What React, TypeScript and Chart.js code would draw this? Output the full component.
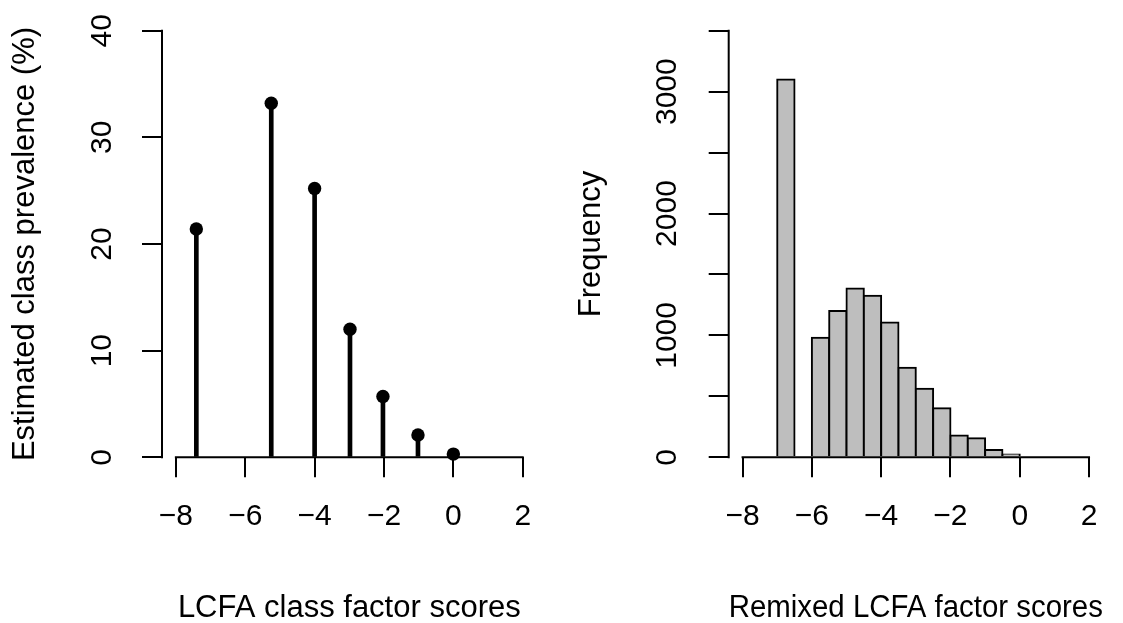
import React, { useEffect, useRef } from 'react';
import { Chart, registerables } from 'chart.js';

Chart.register(...registerables);

const FONT = "'Liberation Sans', Arial, Helvetica, sans-serif";
const FS = 30;
const TFS = 31;

// ---- Left panel data (LCFA classes) ----
const classScores = [-7.41, -5.25, -4.0, -2.98, -2.03, -1.02, 0.0];
const classPrevalence = [21.4, 33.2, 25.2, 12.0, 5.7, 2.1, 0.3];
const xTicks = [-8, -6, -4, -2, 0, 2];
const prevTicks = [0, 10, 20, 30, 40];

// ---- Right panel data (histogram) ----
const binEdges = [-7, -6.5, -6, -5.5, -5, -4.5, -4, -3.5, -3, -2.5, -2, -1.5, -1, -0.5, 0];
const binCounts = [3100, 0, 980, 1200, 1385, 1325, 1105, 735, 563, 402, 178, 156, 60, 22];
const freqTicks = [0, 500, 1000, 1500, 2000, 2500, 3000, 3500];
const freqLabels = [0, 1000, 2000, 3000];

const fmt = (v: number) => (v < 0 ? '\u2212' + Math.abs(v) : String(v));

function axisPlugin(xt: number[], yt: number[]) {
  return {
    id: 'rAxes',
    afterDraw(chart: any) {
      const { ctx, chartArea } = chart;
      const xs = chart.scales.x;
      const ys = chart.scales.y;
      ctx.save();
      ctx.strokeStyle = '#000';
      ctx.lineWidth = 2;
      ctx.beginPath();
      ctx.moveTo(xs.getPixelForValue(xt[0]) - 1, chartArea.bottom);
      ctx.lineTo(xs.getPixelForValue(xt[xt.length - 1]) + 1, chartArea.bottom);
      ctx.moveTo(chartArea.left, ys.getPixelForValue(yt[0]) + 1);
      ctx.lineTo(chartArea.left, ys.getPixelForValue(yt[yt.length - 1]) - 1);
      ctx.stroke();
      ctx.restore();
    },
  };
}

const gridOpts = {
  display: true,
  drawOnChartArea: false,
  drawTicks: true,
  offset: false,
  tickLength: 20,
  color: '#000',
  lineWidth: 2,
};

function makeX(title: string, height: number) {
  return {
    type: 'linear',
    min: -8.4,
    max: 2.4,
    offset: false,
    afterBuildTicks: (s: any) => {
      s.ticks = xTicks.map((v) => ({ value: v }));
    },
    afterFit: (s: any) => {
      s.height = height;
      s.paddingLeft = 0;
      s.paddingRight = 0;
    },
    grid: gridOpts,
    border: { display: false },
    ticks: {
      color: '#000',
      font: { family: FONT, size: FS },
      padding: 21.3,
      minRotation: 0,
      maxRotation: 0,
      autoSkip: false,
      callback: (v: any) => fmt(Number(v)),
    },
    title: {
      display: true,
      text: title,
      color: '#000',
      font: { family: FONT, size: TFS, lineHeight: 0.8 },
      padding: { top: 0, bottom: 2 },
    },
  };
}

function makeY(
  title: string,
  max: number,
  ticks: number[],
  labels: number[],
  width: number,
  tickPad: number,
  titlePad: number
) {
  return {
    type: 'linear',
    min: 0,
    max,
    afterBuildTicks: (s: any) => {
      s.ticks = ticks.map((v) => ({ value: v }));
    },
    afterFit: (s: any) => {
      s.width = width;
      s.paddingTop = 0;
      s.paddingBottom = 0;
    },
    grid: gridOpts,
    border: { display: false },
    ticks: {
      color: '#000',
      font: { family: FONT, size: FS },
      padding: tickPad,
      minRotation: 90,
      maxRotation: 90,
      crossAlign: 'center',
      autoSkip: false,
      callback: (v: any) => (labels.includes(Number(v)) ? String(v) : ''),
    },
    title: {
      display: true,
      text: title,
      color: '#000',
      font: { family: FONT, size: TFS, lineHeight: 0.8 },
      padding: { top: titlePad, bottom: 0 },
    },
  };
}

const commonOpts = {
  responsive: false,
  animation: false,
  events: [],
  plugins: { legend: { display: false }, tooltip: { enabled: false } },
};

export default function App() {
  const leftRef = useRef<HTMLCanvasElement>(null);
  const rightRef = useRef<HTMLCanvasElement>(null);

  useEffect(() => {
    document.body.style.margin = '0';
    Chart.defaults.font.family = FONT;
    Chart.defaults.color = '#000';

    const pts = classScores.map((x, i) => ({ x, y: classPrevalence[i] }));
    const left = new Chart(leftRef.current as HTMLCanvasElement, {
      type: 'bar',
      data: {
        datasets: [
          {
            type: 'bar',
            data: pts,
            backgroundColor: '#000',
            borderWidth: 0,
            barThickness: 4,
            clip: false,
          } as any,
          {
            type: 'scatter',
            data: pts,
            backgroundColor: '#000',
            borderColor: '#000',
            pointRadius: 6.7,
            borderWidth: 0,
            clip: false,
          } as any,
        ],
      },
      options: {
        ...commonOpts,
        layout: { padding: { left: 0, right: 25.4, top: 30.7, bottom: 0 } },
        scales: {
          x: makeX('LCFA class factor scores', 165.7),
          y: makeY('Estimated class prevalence (%)', 40, prevTicks, prevTicks, 162, 22.2, 13.2),
        },
      } as any,
      plugins: [axisPlugin(xTicks, prevTicks)],
    });

    const centers = binCounts.map((_, i) => (binEdges[i] + binEdges[i + 1]) / 2);
    const right = new Chart(rightRef.current as HTMLCanvasElement, {
      type: 'bar',
      data: {
        datasets: [
          {
            type: 'bar',
            data: centers.map((x, i) => ({ x, y: binCounts[i] })),
            backgroundColor: '#BEBEBE',
            borderColor: '#000',
            borderWidth: 2,
            inflateAmount: 1,
            borderSkipped: 'start',
            barPercentage: 1,
            categoryPercentage: 1,
          } as any,
        ],
      },
      options: {
        ...commonOpts,
        layout: { padding: { left: 0, right: 20.1, top: 30.7, bottom: 0 } },
        scales: {
          x: makeX('Remixed LCFA factor scores', 165.7),
          y: makeY('Frequency', 3500, freqTicks, freqLabels, 167.7, 7.3, 18.5),
        },
      } as any,
      plugins: [axisPlugin(xTicks, freqTicks)],
    });

    return () => {
      left.destroy();
      right.destroy();
    };
  }, []);

  return (
    <div style={{ position: 'relative', width: 1123, height: 623, background: '#fff' }}>
      <canvas ref={leftRef} width={562} height={623} style={{ position: 'absolute', left: 0, top: 0 }} />
      <canvas ref={rightRef} width={562} height={623} style={{ position: 'absolute', left: 561, top: 0 }} />
    </div>
  );
}
